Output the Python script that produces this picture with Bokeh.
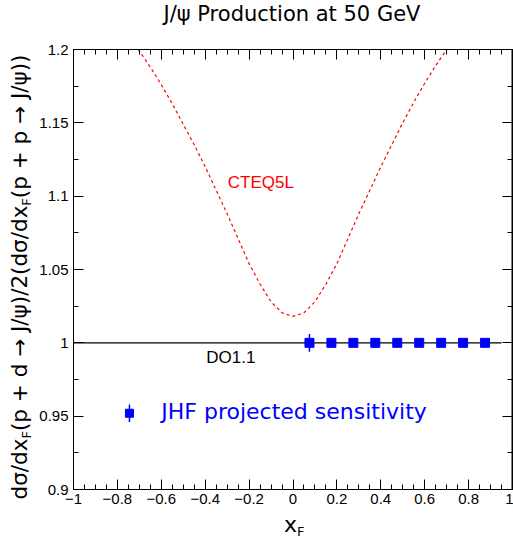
import numpy as np
from bokeh.plotting import figure
from bokeh.models import Range1d, LinearAxis, FixedTicker, Label, ColumnDataSource, CustomJSTickFormatter, Div
from bokeh.layouts import row, column
from bokeh.embed import file_html
from bokeh.resources import INLINE

# ---- data ----
cteq_x = [-0.705, -0.65, -0.6, -0.55, -0.5, -0.45, -0.4, -0.35, -0.3, -0.25, -0.2, -0.15,
          -0.1, -0.05, 0.0, 0.05, 0.1, 0.15, 0.2, 0.25, 0.3, 0.35, 0.4, 0.45, 0.5, 0.55,
          0.6, 0.65, 0.70]
cteq_y = [1.2, 1.188, 1.176, 1.163, 1.149, 1.135, 1.120, 1.104, 1.088, 1.071, 1.054, 1.040,
          1.028, 1.0205, 1.018, 1.0205, 1.028, 1.040, 1.054, 1.071, 1.088, 1.104, 1.120, 1.135,
          1.150, 1.164, 1.177, 1.189, 1.2]

do11_x = [-1.0, 0.95]
do11_y = [1.0, 1.0]

jhf_x = [0.075, 0.175, 0.275, 0.375, 0.475, 0.575, 0.675, 0.775, 0.875]
jhf_y = [1.0, 1.0, 1.0, 1.0, 1.0, 1.0, 1.0, 1.0, 1.0]
jhf_err = [0.006, 0.0025, 0.0025, 0.0025, 0.0025, 0.0025, 0.0025, 0.0025, 0.0025]

legend_x = [-0.745]
legend_y = [0.952]
legend_err = [0.006]

x_ticks = [-1, -0.8, -0.6, -0.4, -0.2, 0, 0.2, 0.4, 0.6, 0.8, 1]
x_tick_labels = ["\u22121", "\u22120.8", "\u22120.6", "\u22120.4", "\u22120.2", "0",
                 "0.2", "0.4", "0.6", "0.8", "1"]
y_ticks = [0.9, 0.95, 1, 1.05, 1.1, 1.15, 1.2]
y_tick_labels = ["0.9", "0.95", "1", "1.05", "1.1", "1.15", "1.2"]

title_text = "J/\u03c8 Production at 50 GeV"
SUB = "<sub style='font-size:13px;vertical-align:-4px;line-height:0'>F</sub>"
ylabel_html = ("d\u03c3/dx" + SUB + "(p + d \u2192 J/\u03c8)/2(d\u03c3/dx" + SUB +
               "(p + p \u2192 J/\u03c8))")
xlabel_html = "x" + SUB

BLUE = "#0000ff"
RED = "#ff0000"

fig = figure(width=477, height=486, x_range=Range1d(-1, 1), y_range=Range1d(0.9, 1.2),
             x_axis_type=None, y_axis_type=None, output_backend="svg", toolbar_location=None,
             min_border_left=36, min_border_right=1, min_border_top=23, min_border_bottom=23)
fig.background_fill_color = "white"
fig.border_fill_color = "white"
fig.outline_line_color = "black"

x_minor = [round(v, 3) for v in np.arange(-1, 1.0001, 0.05)]
y_minor = [round(v, 4) for v in np.arange(0.9, 1.2001, 0.025)]

blank = CustomJSTickFormatter(code="return ''")

def style(ax, labels=True):
    ax.axis_line_color = "black"
    ax.major_tick_in = 10
    ax.major_tick_out = 0
    ax.minor_tick_in = 5
    ax.minor_tick_out = 0
    ax.major_tick_line_color = "black"
    ax.minor_tick_line_color = "black"
    ax.major_label_text_font = "Liberation Sans"
    ax.major_label_text_font_size = "15px"
    ax.major_label_text_color = "black"
    if not labels:
        ax.formatter = blank
        ax.major_label_text_font_size = "0px"
        ax.major_label_standoff = 0

bx = LinearAxis(ticker=FixedTicker(ticks=x_ticks, minor_ticks=x_minor))
bx.major_label_overrides = dict(zip(x_ticks, x_tick_labels))
bx.major_label_standoff = 4
style(bx)
fig.add_layout(bx, "below")

tx = LinearAxis(ticker=FixedTicker(ticks=x_ticks, minor_ticks=x_minor))
style(tx, labels=False)
fig.add_layout(tx, "above")

ly = LinearAxis(ticker=FixedTicker(ticks=y_ticks, minor_ticks=y_minor))
ly.major_label_overrides = dict(zip(y_ticks, y_tick_labels))
ly.major_label_standoff = 5
style(ly)
fig.add_layout(ly, "left")

ry = LinearAxis(ticker=FixedTicker(ticks=y_ticks, minor_ticks=y_minor))
style(ry, labels=False)
ry.axis_line_width = 2
fig.add_layout(ry, "right")

# curves
fig.line(cteq_x, cteq_y, line_color=RED, line_width=1.2, line_dash="3 3")
fig.line(do11_x, do11_y, line_color="black", line_width=1.2)

src = ColumnDataSource(dict(x=jhf_x, y=jhf_y,
                            lo=[a - b for a, b in zip(jhf_y, jhf_err)],
                            hi=[a + b for a, b in zip(jhf_y, jhf_err)]))
fig.segment(x0="x", y0="lo", x1="x", y1="hi", source=src, line_color=BLUE, line_width=1.5)
fig.scatter("x", "y", source=src, marker="square", size=9, fill_color=BLUE, line_color=BLUE)

lsrc = ColumnDataSource(dict(x=legend_x, y=legend_y,
                             lo=[a - b for a, b in zip(legend_y, legend_err)],
                             hi=[a + b for a, b in zip(legend_y, legend_err)]))
fig.segment(x0="x", y0="lo", x1="x", y1="hi", source=lsrc, line_color=BLUE, line_width=1.5)
fig.scatter("x", "y", source=lsrc, marker="square", size=8, fill_color=BLUE, line_color=BLUE)

# text labels inside the frame
fig.add_layout(Label(x=-0.6, y=0.945, text="JHF projected sensitivity", text_color=BLUE,
                     text_font="DejaVu Sans", text_font_size="22px"))
fig.add_layout(Label(x=-0.297, y=1.1027, text="CTEQ5L", text_color=RED,
                     text_font="Liberation Sans", text_font_size="17px"))
fig.add_layout(Label(x=-0.395, y=0.9834, text="DO1.1", text_color="black",
                     text_font="Liberation Sans", text_font_size="17px"))

title = Div(text=("<div style=\"position:absolute;left:256px;top:3px;"
                  "transform:translateX(-50%);white-space:nowrap;"
                  "font-family:'DejaVu Sans';font-size:21px;line-height:22px;color:black;\">"
                  + title_text + "</div>"),
            width=477, height=26, margin=0)
ylab = Div(text=("<div style=\"position:absolute;left:20px;top:277px;"
                 "transform:translate(-50%,-50%) rotate(-90deg);white-space:nowrap;"
                 "font-family:'DejaVu Sans';font-size:21.5px;line-height:22px;color:black;\">"
                 + ylabel_html + "</div>"),
           width=36, height=540, margin=0)
xlab = Div(text=("<div style=\"position:absolute;left:248px;top:2px;white-space:nowrap;"
                 "font-family:'DejaVu Sans';font-size:22px;line-height:22px;color:black;\">"
                 + xlabel_html + "</div>"),
           width=477, height=28, margin=0)

p = row(ylab, column(title, fig, xlab, spacing=0), spacing=0)

open("out.html", "w").write(file_html(p, INLINE))
